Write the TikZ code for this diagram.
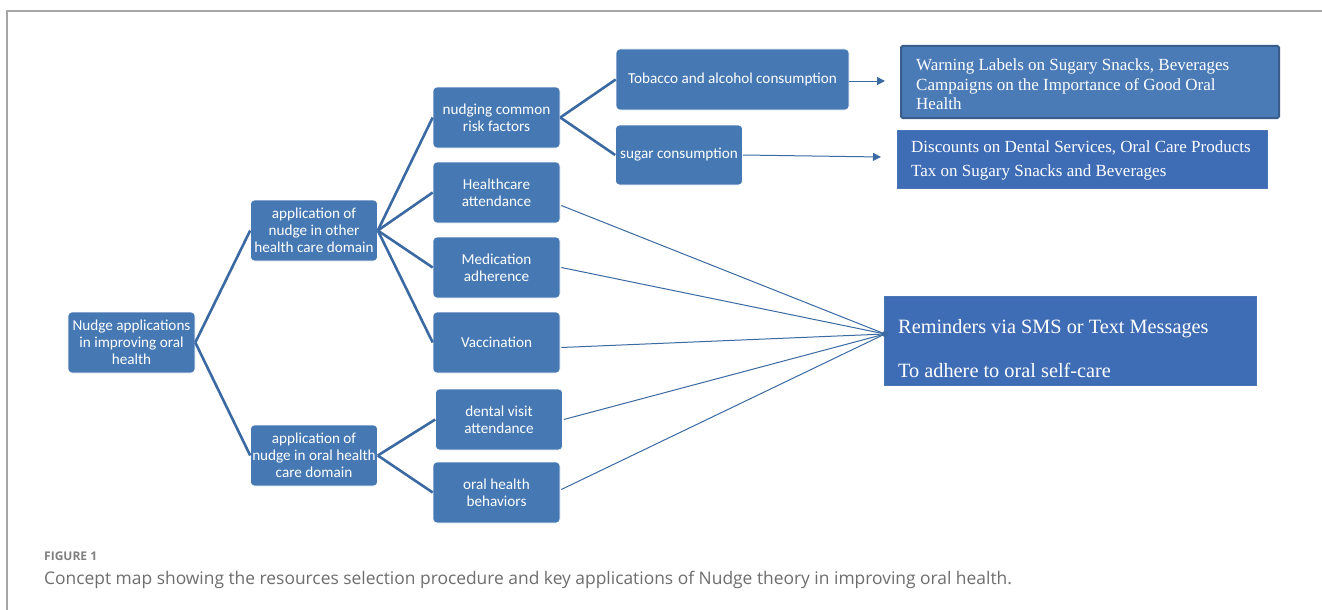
\documentclass[tikz,border=0pt]{standalone}
\usepackage{fontspec}
\setmainfont{Liberation Serif}
\newfontfamily\carlito{Carlito}
\newfontfamily\capfont{Open Sans}
\usetikzlibrary{arrows.meta}
\definecolor{boxblue}{HTML}{4679B4}
\definecolor{warnfill}{HTML}{4A7BB7}
\definecolor{warnborder}{HTML}{385D8A}
\definecolor{discfill}{HTML}{3E6DB5}
\definecolor{discborder}{HTML}{4A76B8}
\definecolor{linkblue}{HTML}{3B6AA3}
\definecolor{framegray}{HTML}{A6A6A6}
\definecolor{capgray}{HTML}{6E6E6E}
\definecolor{figgray}{HTML}{808080}
\tikzset{
  tbox/.style={rectangle, rounded corners=4pt, fill=boxblue, draw=white, line width=0.6pt,
    text=white, font=\carlito\fontsize{15.2}{16.8}\selectfont, align=center,
    minimum width=127pt, minimum height=61pt, inner sep=1pt},
  rbox/.style={rectangle, fill=discfill, draw=discborder, line width=1pt, text=white,
    align=left, anchor=north west, inner sep=0pt},
  treeline/.style={draw=linkblue, line width=2.6pt},
  thinline/.style={draw=linkblue, line width=1pt},
  arrowline/.style={draw=linkblue, line width=1pt, -{Triangle[length=8pt,width=8pt]}}
}
\begin{document}
\begin{tikzpicture}[x=1pt,y=-1pt]
\useasboundingbox (0,0) rectangle (1322,610);
\fill[white] (0,0) rectangle (1322,610);
% frame
\draw[framegray, line width=1.2pt] (7,610) -- (7,11) -- (1322,11);

% tree boxes
\node[tbox] (root) at (131.5,342.5) {Nudge applications\\in improving oral\\health};
\node[tbox] (other) at (314,230.5) {application of\\nudge in other\\health care domain};
\node[tbox] (oral) at (314,455.5) {application of\\nudge in oral health\\care domain};
\node[tbox] (risk) at (496.5,117.5) {nudging common\\risk factors};
\node[tbox] (hc) at (496.5,192.5) {Healthcare\\attendance};
\node[tbox] (med) at (496.5,267.5) {Medication\\adherence};
\node[tbox] (vac) at (496.5,342.5) {Vaccination};
\node[tbox] (dent) at (499,419.5) {dental visit\\attendance};
\node[tbox] (ohb) at (496.5,492.5) {oral health\\behaviors};
\node[tbox, minimum width=233pt] (tob) at (732.5,79.5) {Tobacco and alcohol consumption};
\node[tbox, minimum width=127pt, minimum height=60pt] (sug) at (679,155) {sugar consumption};

% right boxes
\node[rbox, fill=warnfill, draw=warnborder, rounded corners=1.5pt, minimum width=378pt, minimum height=72pt, line width=2pt] (warn) at (900,45) {};
\node[text=white, anchor=west, align=left, font=\fontsize{17}{19.5}\selectfont, inner sep=0pt] (warnt) at (916,84.5)
  {Warning Labels on Sugary Snacks, Beverages\\Campaigns on the Importance of Good Oral\\Health};
\node[rbox, minimum width=370pt, minimum height=58pt] (disc) at (897,130) {};
\node[text=white, anchor=west, align=left, font=\fontsize{17}{24}\selectfont, inner sep=0pt] (disct) at (911,160)
  {Discounts on Dental Services, Oral Care Products\\Tax on Sugary Snacks and Beverages};
\node[rbox, minimum width=372pt, minimum height=89pt] (rem) at (884,296) {};
\node[text=white, anchor=west, align=left, font=\fontsize{20.3}{44}\selectfont, inner sep=0pt] (remt) at (898,349)
  {Reminders via SMS or Text Messages\\To adhere to oral self-care};

% tree connectors
\draw[treeline] (root.east) -- (other.west);
\draw[treeline] (root.east) -- (oral.west);
\draw[treeline] (other.east) -- (risk.west);
\draw[treeline] (other.east) -- (hc.west);
\draw[treeline] (other.east) -- (med.west);
\draw[treeline] (other.east) -- (vac.west);
\draw[treeline] (oral.east) -- (dent.west);
\draw[treeline] (oral.east) -- (ohb.west);
\draw[treeline] (risk.east) -- (tob.west);
\draw[treeline] (risk.east) -- (sug.west);

% arrows
\coordinate (warnin) at (885,81);
\coordinate (discin) at (881,157);
\draw[arrowline] ([yshift=-1.5pt]tob.east) -- (warnin);
\draw[arrowline] (sug.east) -- (discin);

% converging thin lines
\coordinate (hub) at (885,334);
\fill[linkblue] (hub) circle (3pt);
\draw[thinline] ([xshift=1pt,yshift=-13pt]hc.east) -- (hub);
\draw[thinline] ([xshift=1pt]med.east) -- (hub);
\draw[thinline] ([xshift=1pt,yshift=-5pt]vac.east) -- (hub);
\draw[thinline] ([xshift=1pt]dent.east) -- (hub);
\draw[thinline] ([xshift=1pt,yshift=3pt]ohb.east) -- (hub);

% caption
\node[anchor=west, inner sep=0pt, text=figgray, font=\capfont\bfseries\fontsize{12}{14}\selectfont] (figlab) at (44,556) {FIGURE 1};
\node[anchor=west, inner sep=0pt, text=capgray, font=\capfont\fontsize{17.4}{20}\selectfont] (cap) at (44,580)
  {Concept map showing the resources selection procedure and key applications of Nudge theory in improving oral health.};
\end{tikzpicture}
\end{document}
